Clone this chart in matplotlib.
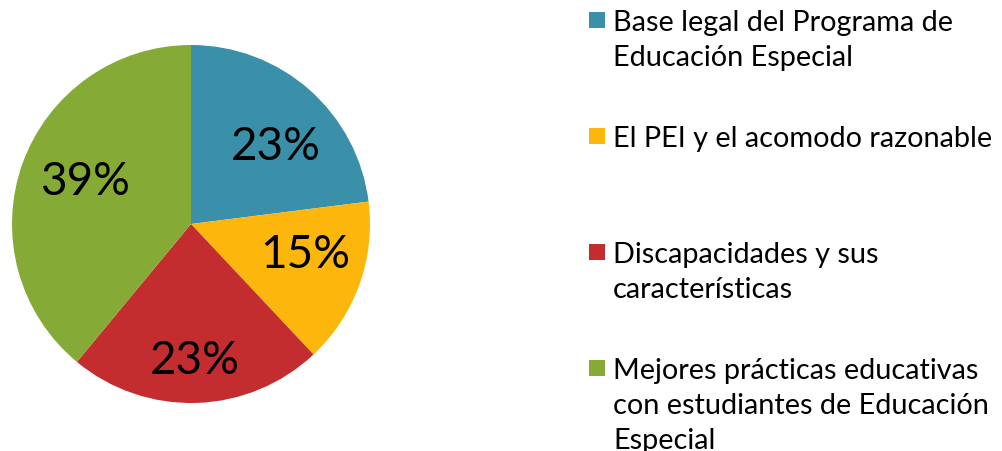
import matplotlib
matplotlib.use("Agg")
import matplotlib.pyplot as plt
import numpy as np
from matplotlib.patches import Rectangle

categories = [
    "Base legal del Programa de\nEducación Especial",
    "El PEI y el acomodo razonable",
    "Discapacidades y sus\ncaracterísticas",
    "Mejores prácticas educativas\ncon estudiantes de Educación\nEspecial",
]
values = [23, 15, 23, 39]
colors = ["#3A90A8", "#FDB70C", "#C32D2F", "#85AA35"]

W, H = 1002, 452
fig = plt.figure(figsize=(W / 100, H / 100), dpi=100)
fig.patch.set_facecolor("white")

FONT = ["Lato", "DejaVu Sans"]

ax = fig.add_axes([12 / W, 48 / H, 358 / W, 358 / H])
wedges, texts, autotexts = ax.pie(
    values, colors=colors, startangle=90, counterclock=False,
    autopct=lambda p: f"{p:.0f}%", pctdistance=0.65, radius=1.0,
    wedgeprops=dict(linewidth=0),
    textprops=dict(fontsize=33, family=FONT, color="black"),
)
# label placement (best-fit style)
radii = [0.64, 0.66, 0.76, 0.64]
offsets = [-6, 5, 0, -2]
for w, t, r, off in zip(wedges, autotexts, radii, offsets):
    ang = np.deg2rad((w.theta1 + w.theta2) / 2 + off)
    t.set_position((r * np.cos(ang), r * np.sin(ang)))
    t.set_ha("center")
    t.set_va("center")
ax.set_xlim(-1, 1)
ax.set_ylim(-1, 1)
ax.set_aspect("equal")
ax.axis("off")

# legend (manual, square aligned with first line)
sq = 16
x_sq = 589
x_txt = 613
centers = [21, 137, 253, 369]
line_h = 35
for lab, col, cy in zip(categories, colors, centers):
    fig.add_artist(Rectangle(((x_sq) / W, (H - cy - sq / 2) / H), sq / W, sq / H,
                             transform=fig.transFigure, facecolor=col, edgecolor="none"))
    for i, line in enumerate(lab.split("\n")):
        by = cy + 10 + i * line_h
        fig.text(x_txt / W, (H - by) / H, line, fontsize=20.8, family=FONT,
                 color="black", ha="left", va="baseline")

fig.savefig("out.png", dpi=100, facecolor="white")
